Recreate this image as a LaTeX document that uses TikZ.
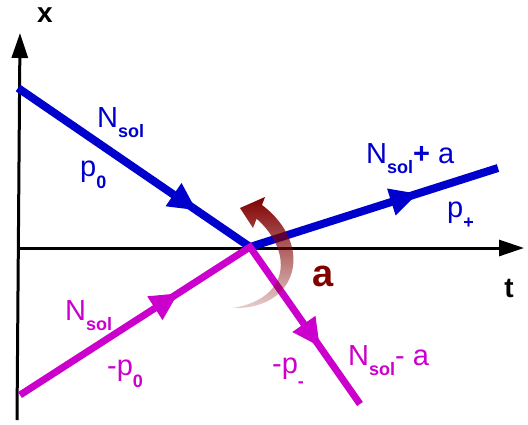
\documentclass[tikz,border=0pt]{standalone}
\usepackage{fontspec}
\setmainfont{Liberation Sans}
\usetikzlibrary{arrows.meta,decorations.markings,fadings}
\definecolor{solblue}{RGB}{0,0,204}
\definecolor{solmag}{RGB}{204,0,204}
\definecolor{rotred}{RGB}{128,0,0}
\tikzfading[name=tailfade, top color=transparent!0, middle color=transparent!0,
  bottom color=transparent!82]
\newcommand{\subtxt}[2]{\raisebox{-#1}{\fontsize{18}{20}\selectfont\bfseries #2}}

\begin{document}
\begin{tikzpicture}[
  x=1pt, y=-1pt,
  axis/.style={line width=3pt, -{Triangle[length=25pt,width=16pt]}},
  axislbl/.style={inner sep=0pt, font=\fontsize{28}{30}\selectfont\bfseries},
  lbl/.style={inner sep=0pt, anchor=base west, font=\fontsize{29}{32}\selectfont},
  twoarrows/.style 2 args={postaction={decorate}, decoration={markings,
    mark=at position #1 with {\arrow{Triangle[length=28pt,width=26pt]}},
    mark=at position #2 with {\arrow{Triangle[length=28pt,width=26pt]}}}},
  blueline/.style={line width=8pt, solblue, line join=miter},
  magline/.style={line width=7pt, solmag, line join=miter}
]
\useasboundingbox (0,0) rectangle (528,424);

\coordinate (xbot) at (17,420);
\coordinate (xtop) at (20,33);
\coordinate (tleft) at (18,248);
\coordinate (ttop) at (524,248);
\coordinate (vertex) at (250,247);
\coordinate (bin) at (18,88);
\coordinate (bout) at (498,168);
\coordinate (min) at (20,395);
\coordinate (mout) at (360,404);

\draw[axis] (xbot) -- (xtop);
\draw[axis] (tleft) -- (ttop);
\node[axislbl] (xlab) at (45,15) {x};
\node[axislbl] (tlab) at (509,288) {t};

\draw[blueline, twoarrows={0.40}{0.845}] (bin) -- (vertex) -- (bout);
\draw[magline, twoarrows={0.405}{0.85}] (min) -- (vertex) -- (mout);

\fill[rotred, path fading=tailfade]
  (233,308) .. controls (298,310) and (315,245) .. (262,205)
  -- (265,197) -- (240,208) -- (253,228) -- (256.6,218.7)
  .. controls (292,250) and (292,298) .. (233,308) -- cycle;
\node[inner sep=0pt, rotred, font=\fontsize{38}{40}\selectfont\bfseries] (alab) at (323,276) {a};

\node[lbl, solblue] (nsolin) at (97,127) {N\subtxt{10pt}{sol}};
\node[lbl, solblue] (pzero) at (80,176) {p\subtxt{12pt}{0}};
\node[lbl, solblue] (nsolplus) at (366,163) {N\subtxt{10pt}{sol}\textbf{+} a};
\node[lbl, solblue] (pplus) at (447,217) {p\subtxt{11pt}{+}};
\node[lbl, solmag] (nsolmin) at (65,320) {N\subtxt{10pt}{sol}};
\node[lbl, solmag] (mpzero) at (107,375) {-p\subtxt{12pt}{0}};
\node[lbl, solmag] (mpminus) at (272,373) {-p\subtxt{14pt}{-}};
\node[lbl, solmag] (nsolminus) at (348,365) {N\subtxt{10pt}{sol}- a};
\end{tikzpicture}
\end{document}
